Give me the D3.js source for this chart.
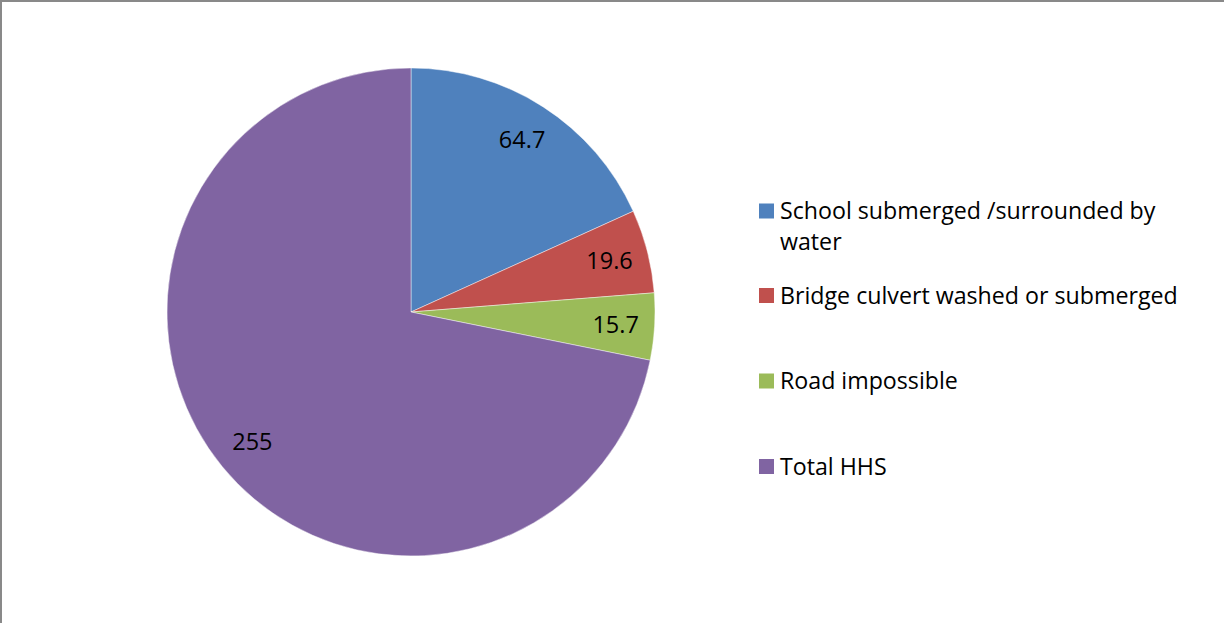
<!DOCTYPE html>
<html>
<head>
<meta charset="utf-8">
<script src="https://cdn.jsdelivr.net/npm/d3@7"></script>
<style>
  html, body { margin: 0; padding: 0; background: #fff; }
  svg { display: block; }
  text { font-family: "Open Sans", Lato, sans-serif; fill: #000; }
</style>
</head>
<body>
<svg id="chart" width="1224" height="623"></svg>
<script>
// Flood impact categories and their values
const categories = [
  "School submerged /surrounded by water",
  "Bridge culvert washed or submerged",
  "Road impossible",
  "Total HHS"
];
const values = [64.7, 19.6, 15.7, 255];
const colors = ["#4F81BD", "#C0504D", "#9BBB59", "#8064A2"];

const W = 1224, H = 623;
const svg = d3.select("#chart");

// Frame edges (top and left)
svg.append("line").attr("x1", 0).attr("y1", 1).attr("x2", W).attr("y2", 1)
  .attr("stroke", "#898989").attr("stroke-width", 2);
svg.append("line").attr("x1", 1).attr("y1", 0).attr("x2", 1).attr("y2", H)
  .attr("stroke", "#898989").attr("stroke-width", 2);

const cx = 411, cy = 312, radius = 244;
const data = categories.map((c, i) => ({ name: c, value: values[i], color: colors[i] }));

const pie = d3.pie().value(d => d.value).sort(null);
const arcs = pie(data);
const arc = d3.arc().innerRadius(0).outerRadius(radius);
const labelArc = d3.arc().innerRadius(205).outerRadius(205);

const g = svg.append("g").attr("transform", `translate(${cx},${cy})`);

g.selectAll("path.slice")
  .data(arcs)
  .join("path")
  .attr("class", "slice")
  .attr("d", arc)
  .attr("fill", d => d.data.color)
  .attr("stroke", "#ffffff")
  .attr("stroke-opacity", 0.6)
  .attr("stroke-width", 0.75);

g.selectAll("text.value")
  .data(arcs)
  .join("text")
  .attr("class", "value")
  .attr("transform", d => `translate(${labelArc.centroid(d)})`)
  .attr("text-anchor", "middle")
  .attr("dy", "0.36em")
  .style("font-size", "23.5px")
  .text(d => d3.format("")(d.data.value));

// Legend
const legendX = 759, legendTextX = 780, legendTops = [203.5, 288, 373.5, 459];
const lineGap = 31, maxLineWidth = 410;
const legend = svg.append("g");

data.forEach((d, i) => {
  const top = legendTops[i];
  legend.append("rect")
    .attr("x", legendX).attr("y", top)
    .attr("width", 15).attr("height", 15)
    .attr("fill", d.color);

  const t = legend.append("text")
    .attr("x", legendTextX)
    .attr("y", top + 15.5)
    .style("font-size", "23.2px");

  // word wrap to the legend width
  const words = d.name.split(" ");
  let line = [];
  let tspan = t.append("tspan").attr("x", legendTextX).attr("dy", 0);
  words.forEach(w => {
    line.push(w);
    tspan.text(line.join(" "));
    if (tspan.node().getComputedTextLength() > maxLineWidth && line.length > 1) {
      line.pop();
      tspan.text(line.join(" "));
      line = [w];
      tspan = t.append("tspan").attr("x", legendTextX).attr("dy", lineGap).text(w);
    }
  });
});
</script>
</body>
</html>
